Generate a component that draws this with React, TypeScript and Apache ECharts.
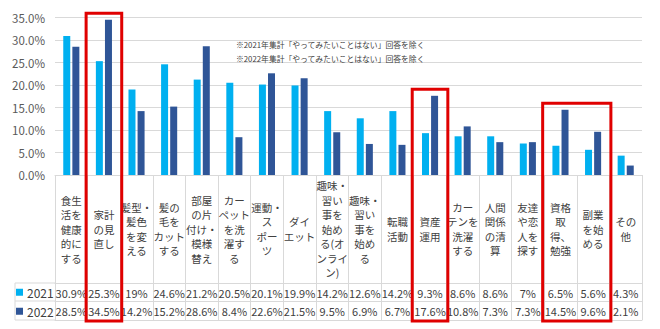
import React, { useEffect, useRef } from "react";
import * as echarts from "echarts";

const categories: string[] = [
  "食生\n活を\n健康\n的に\nする",
  "家計\nの見\n直し",
  "髪型・\n髪色\nを変\nえる",
  "髪の\n毛を\nカット\nする",
  "部屋\nの片\n付け・\n模様\n替え",
  "カー\nペット\nを洗\n濯す\nる",
  "運動・\nス\nポー\nツ",
  "ダイ\nエット",
  "趣味・\n習い\n事を\n始め\nる(オ\nンライ\nン)",
  "趣味・\n習い\n事を\n始め\nる",
  "転職\n活動",
  "資産\n運用",
  "カー\nテンを\n洗濯\nする",
  "人間\n関係\nの清\n算",
  "友達\nや恋\n人を\n探す",
  "資格\n取\n得、\n勉強",
  "副業\nを始\nめる",
  "その\n他",
];

const seriesNames: string[] = ["2021", "2022"];
const values2021: number[] = [30.9, 25.3, 19, 24.6, 21.2, 20.5, 20.1, 19.9, 14.2, 12.6, 14.2, 9.3, 8.6, 8.6, 7, 6.5, 5.6, 4.3];
const values2022: number[] = [28.5, 34.5, 14.2, 15.2, 28.6, 8.4, 22.6, 21.5, 9.5, 6.9, 6.7, 17.6, 10.8, 7.3, 7.3, 14.5, 9.6, 2.1];
const yTicks: number[] = [0, 5, 10, 15, 20, 25, 30, 35];
const notes: string[] = [
  "※2021年集計「やってみたいことはない」回答を除く",
  "※2022年集計「やってみたいことはない」回答を除く",
];
// highlighted category index ranges [from, to]
const highlightGroups: number[][] = [[1, 1], [11, 11], [15, 16]];

const COLOR_2021 = "#00B0F0";
const COLOR_2022 = "#2F5597";
const GRID_LINE = "#D9D9D9";
const TEXT = "#404040";
const FONT = "'Noto Sans CJK JP', 'Noto Sans', sans-serif";

const fmt = (v: number) => `${v}%`;

export default function App() {
  const ref = useRef<HTMLDivElement>(null);

  useEffect(() => {
    if (!ref.current) return;
    const chart = echarts.init(ref.current, undefined, { renderer: "svg" });
    const gridLeft = 55;
    const gridRight = 18;
    const gridTop = 17.5;
    const gridBottom = 154;
    const H = 329;
    const axisY = H - gridBottom;

    const option: any = {
      animation: false,
      textStyle: { fontFamily: FONT },
      grid: { left: gridLeft, right: gridRight, top: gridTop, bottom: gridBottom, containLabel: false },
      legend: {
        data: seriesNames,
        orient: "vertical",
        left: 16,
        top: 285,
        padding: 0,
        itemGap: 4.5,
        itemWidth: 7,
        itemHeight: 7,
        icon: "rect",
        textStyle: { fontSize: 12, color: TEXT, fontFamily: FONT, lineHeight: 14.5, padding: [0, 0, 0, -1] },
      },
      yAxis: {
        type: "value",
        min: yTicks[0],
        max: yTicks[yTicks.length - 1],
        interval: 5,
        axisLine: { show: false },
        axisTick: { show: false },
        splitLine: { lineStyle: { color: GRID_LINE, width: 1 } },
        axisLabel: {
          formatter: (v: number) => v.toFixed(1) + "%",
          fontSize: 11.5,
          color: "#595959",
          margin: 10,
          fontFamily: FONT,
        },
      },
      xAxis: [
        {
          type: "category",
          data: categories,
          axisLine: { show: true, lineStyle: { color: GRID_LINE } },
          axisTick: { show: true, length: 145, lineStyle: { color: GRID_LINE } },
          axisLabel: {
            interval: 0,
            margin: 54,
            verticalAlign: "middle",
            fontSize: 10.5,
            lineHeight: 14.5,
            color: TEXT,
            fontFamily: FONT,
          },
        },
        {
          type: "category",
          data: categories,
          position: "bottom",
          offset: 108,
          axisLine: { show: true, lineStyle: { color: GRID_LINE } },
          axisTick: { show: false },
          axisLabel: {
            interval: 0,
            margin: 9.5,
            verticalAlign: "middle",
            fontSize: 11,
            color: TEXT,
            fontFamily: FONT,
            formatter: (_: string, i: number) => fmt(values2021[i]),
          },
        },
        {
          type: "category",
          data: categories,
          position: "bottom",
          offset: 126,
          axisLine: { show: true, lineStyle: { color: GRID_LINE } },
          axisTick: { show: false },
          axisLabel: {
            interval: 0,
            margin: 10,
            verticalAlign: "middle",
            fontSize: 11,
            color: TEXT,
            fontFamily: FONT,
            formatter: (_: string, i: number) => fmt(values2022[i]),
          },
        },
        {
          type: "category",
          data: categories,
          position: "bottom",
          offset: 145,
          axisLine: { show: true, lineStyle: { color: GRID_LINE } },
          axisTick: { show: false },
          axisLabel: { show: false },
        },
      ],
      series: [
        {
          name: seriesNames[0],
          type: "bar",
          xAxisIndex: 0,
          data: values2021,
          barWidth: 7,
          barGap: "30%",
          itemStyle: { color: COLOR_2021 },
        },
        {
          name: seriesNames[1],
          type: "bar",
          xAxisIndex: 0,
          data: values2022,
          barWidth: 7,
          barGap: "30%",
          itemStyle: { color: COLOR_2022 },
        },
      ],
    };
    chart.setOption(option);

    const W = ref.current.clientWidth;
    const band = (W - gridLeft - gridRight) / categories.length;
    const graphics: any[] = [];
    // legend column of the data table
    const rowLines = [axisY + 108, axisY + 126, axisY + 145];
    rowLines.forEach((y) => {
      graphics.push({
        type: "line",
        shape: { x1: 15, y1: y, x2: gridLeft, y2: y },
        style: { stroke: GRID_LINE, lineWidth: 1 },
        silent: true,
      });
    });
    graphics.push({
      type: "line",
      shape: { x1: 15, y1: rowLines[0], x2: 15, y2: rowLines[2] },
      style: { stroke: GRID_LINE, lineWidth: 1 },
      silent: true,
    });
    notes.forEach((t, i) => {
      graphics.push({
        type: "text",
        left: 236,
        top: 41 + i * 14,
        style: { text: t, fontSize: 7.8, fill: TEXT, fontFamily: FONT },
        silent: true,
      });
    });
    highlightGroups.forEach(([a, b]) => {
      const cx0 = chart.convertToPixel({ xAxisIndex: 0 }, a) as number;
      const cx1 = chart.convertToPixel({ xAxisIndex: 0 }, b) as number;
      let mx = 0;
      for (let i = a; i <= b; i++) mx = Math.max(mx, values2021[i], values2022[i]);
      const top = (chart.convertToPixel({ yAxisIndex: 0 }, mx) as number) - 6.5;
      const x0 = cx0 - band / 2 - 1.5;
      const x1 = cx1 + band / 2 + 1.5;
      graphics.push({
        type: "rect",
        shape: { x: x0, y: top, width: x1 - x0, height: axisY + 146 - top },
        style: { fill: "none", stroke: "#E00000", lineWidth: 3 },
        z: 100,
        silent: true,
      });
    });
    chart.setOption({ graphic: graphics });

    return () => chart.dispose();
  }, []);

  return (
    <div
      ref={ref}
      style={{ position: "fixed", left: 0, top: 0, width: 660, height: 329, background: "#fff" }}
    />
  );
}
